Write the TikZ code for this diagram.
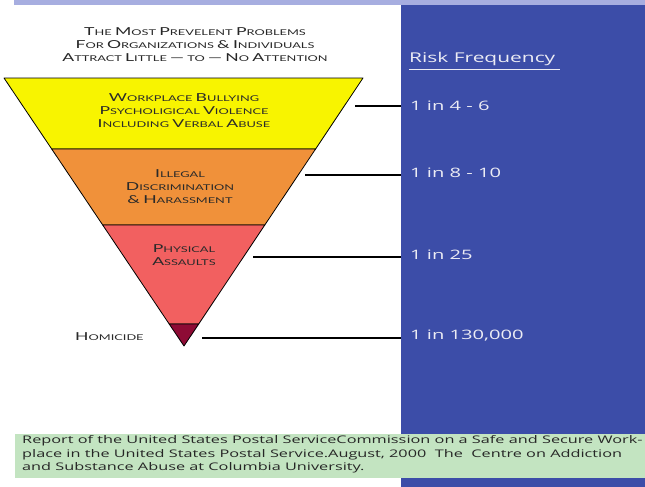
\documentclass[tikz,border=0pt]{standalone}
\usepackage{fontspec}
\setmainfont{Open Sans}[FakeStretch=1.55]
\newfontfamily\scfont{Lato}[FakeStretch=1.6]
\definecolor{panel}{HTML}{3C4DA8}
\definecolor{topband}{HTML}{A7AEE0}
\definecolor{ylw}{HTML}{F8F400}
\definecolor{org}{HTML}{F0913A}
\definecolor{rd}{HTML}{F26060}
\definecolor{maroon}{HTML}{8E0B35}
\definecolor{risktxt}{HTML}{ECECF4}
\definecolor{foot}{HTML}{C3E4C1}
\definecolor{dtxt}{HTML}{2A2A2A}
\newcommand\BC[1]{{\fontsize{11}{13}\selectfont #1}}
\tikzset{
  band/.style={draw=black, line width=0.8pt, line join=round},
  sctext/.style={font=\scfont\fontsize{8}{13}\selectfont, align=center, text=dtxt, inner sep=0pt},
  risk/.style={anchor=west, inner xsep=9pt, inner ysep=0pt, text=risktxt, font=\fontsize{13}{15}\selectfont},
  conn/.style={line width=2.6pt, black}
}
\begin{document}
\begin{tikzpicture}[x=1pt,y=-1pt]
\useasboundingbox (0,0) rectangle (645,487);
\fill[topband] (14,0) rectangle (645,5);
\fill[panel] (401,5) rectangle (645,487);
% triangle bands
\filldraw[band, fill=ylw] (4,78) -- (363,78) -- (315.6,149) -- (51.7,149) -- cycle;
\filldraw[band, fill=org] (51.7,149) -- (315.6,149) -- (264.8,225) -- (102.7,225) -- cycle;
\filldraw[band, fill=rd] (102.7,225) -- (264.8,225) -- (198.7,324) -- (169.2,324) -- cycle;
\filldraw[band, fill=maroon] (169.2,324) -- (198.7,324) -- (184,346) -- cycle;
% header
\node[sctext, text=black!85] (head) at (195,44.5) {\BC{T}HE \BC{M}OST \BC{P}REVELENT \BC{P}ROBLEMS\\ \BC{F}OR \BC{O}RGANIZATIONS \BC{\&} \BC{I}NDIVIDUALS\\ \BC{A}TTRACT \BC{L}ITTLE \BC{—} TO \BC{—} \BC{N}O \BC{A}TTENTION};
% band texts
\node[sctext] (t1) at (184,111) {\BC{W}ORKPLACE \BC{B}ULLYING\\ \BC{P}SYCHOLIGICAL \BC{V}IOLENCE\\ \BC{I}NCLUDING \BC{V}ERBAL \BC{A}BUSE};
\node[sctext] (t2) at (180,186.5) {\BC{I}LLEGAL\\ \BC{D}ISCRIMINATION\\ \BC{\&} \BC{H}ARASSMENT};
\node[sctext] (t3) at (184,255) {\BC{P}HYSICAL\\ \BC{A}SSAULTS};
\node[sctext, anchor=west] (t4) at (75,337) {\BC{H}OMICIDE};
% risk column
\node[anchor=base west, inner sep=0pt, text=risktxt, font=\fontsize{13.5}{16}\selectfont] (rf) at (409,63) {Risk Frequency};
\draw[risktxt, line width=1pt] (rf.south west) ++(0,3) coordinate (u1) -- (u1 -| 560,0);
\node[risk] (r1) at (401,106) {1 in 4 - 6};
\node[risk] (r2) at (401,173) {1 in 8 - 10};
\node[risk] (r3) at (401,255) {1 in 25};
\node[risk] (r4) at (401,336) {1 in 130,000};
\coordinate (c1) at (355,106);
\coordinate (c2) at (305,175);
\coordinate (c3) at (253,257);
\coordinate (c4) at (202,338);
\draw[conn] (c1) -- (c1 -| r1.west);
\draw[conn] (c2) -- (c2 -| r2.west);
\draw[conn] (c3) -- (c3 -| r3.west);
\draw[conn] (c4) -- (c4 -| r4.west);
% footer
\fill[foot] (15,434) rectangle (645,478);
\node[anchor=north west, align=left, inner sep=0pt, text=black!85, font=\fontsize{10.5}{13.4}\selectfont] (ft) at (22,435.5) {Report of the United States Postal ServiceCommission on a Safe and Secure Work-\\place in the United States Postal Service.August, 2000~ The~ Centre on Addiction\\and Substance Abuse at Columbia University.};
\end{tikzpicture}
\end{document}
